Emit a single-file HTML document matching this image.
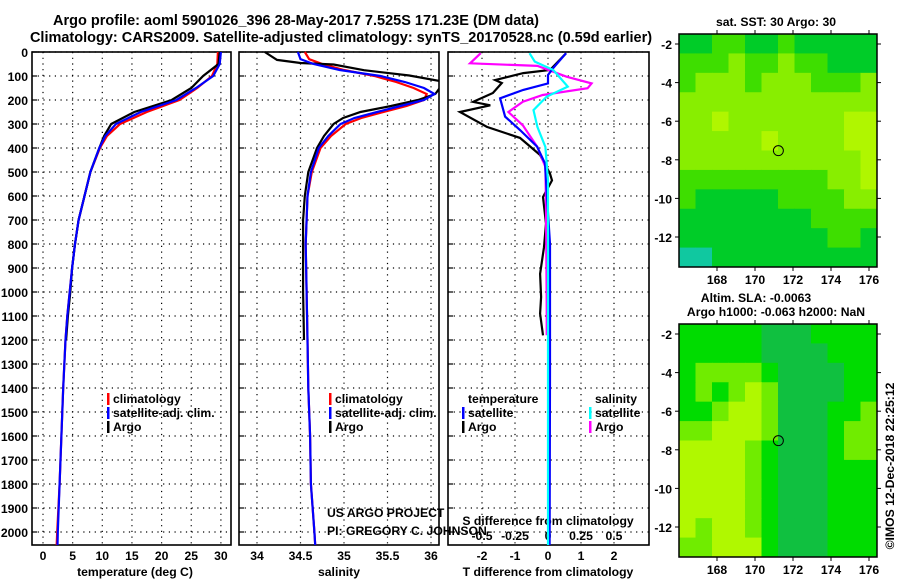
<!DOCTYPE html>
<html><head><meta charset="utf-8"><style>
html,body{margin:0;padding:0;background:#fff;}
svg{display:block;font-family:"Liberation Sans",Arial,sans-serif;}
.b{font-weight:bold;font-size:12.2px;}
</style></head><body>
<svg id="fig" width="900" height="580" viewBox="0 0 900 580">
<text x="296" y="25" text-anchor="middle" font-weight="bold" font-size="14.5">Argo profile: aoml 5901026_396 28-May-2017 7.525S 171.23E (DM data)</text>
<text x="341" y="42" text-anchor="middle" font-weight="bold" font-size="14.5">Climatology: CARS2009. Satellite-adjusted climatology: synTS_20170528.nc (0.59d earlier)</text>
<g id="g"></g>
</svg>
<script>
// ---- data ----
const depthTicks=[0,100,200,300,400,500,600,700,800,900,1000,1100,1200,1300,1400,1500,1600,1700,1800,1900,2000];
const tempTicks=[0,5,10,15,20,25,30];
const salTicks=[34,34.5,35,35.5,36];
const tdiffTicks=[-2,-1,0,1,2];
const sdiffTicks=[-0.5,-0.25,0,0.25,0.5];
const depthClim=[0,50,100,150,200,250,300,350,400,500,600,700,800,900,1000,1100,1200,1400,1600,1800,2000,2060];
const climT=[29.5,29.4,28.5,26,23,17.5,13,10.8,9.6,8,7,6,5.4,4.9,4.5,4.1,3.8,3.4,3.1,2.8,2.4,2.3];
const satT=[30,29.8,28.7,25.8,22.5,16.5,12.3,10.5,9.5,8,7,6,5.4,4.9,4.5,4.1,3.8,3.4,3.1,2.8,2.5,2.45];
const depthArgoT=[0,50,100,150,200,250,300,350,400,500,600,700,800,900,1000,1100,1200];
const argoT=[29.8,29.6,27,25,21.7,15.4,11.5,10.3,9.5,8,7,6,5.4,4.9,4.6,4.2,3.9];
const depthS=[0,30,50,75,100,125,150,175,200,225,250,275,300,350,400,500,600,800,1000,1200,1400,1600,1800,2000,2060];
const climS=[34.55,34.6,34.75,35.0,35.35,35.6,35.8,35.95,35.92,35.72,35.45,35.2,35.02,34.85,34.73,34.63,34.58,34.56,34.57,34.58,34.59,34.61,34.62,34.66,34.67];
const satS=[34.47,34.5,34.65,34.95,35.42,35.7,35.92,36.04,35.92,35.65,35.38,35.12,34.96,34.82,34.71,34.62,34.58,34.56,34.57,34.58,34.59,34.61,34.62,34.66,34.67];
const depthArgoS=[0,33,46,52,76,98,121,150,175,200,225,250,275,300,350,400,500,600,700,800,1000,1200];
const argoS=[34.09,34.23,34.5,34.88,35.23,35.75,36.1,36.1,36.05,35.85,35.54,35.19,34.99,34.88,34.77,34.69,34.59,34.55,34.53,34.53,34.53,34.54];
const depthDA=[5,75,88,117,129,171,208,222,250,312,358,429,507,535,604,715,813,924,1021,1090,1181];
const argoTdiff=[0.55,0.06,-0.75,-1.6,-1.4,-1.67,-2.27,-1.75,-2.67,-1.85,-0.85,-0.24,0.06,0.12,-0.15,-0.06,-0.12,-0.24,-0.21,-0.24,-0.15];
const depthDS=[5,68,96,131,158,193,269,325,394,464,604,800,1333,2060];
const satTdiff=[0.55,0.15,0,0,-0.75,-1.45,-1.3,-0.85,-0.33,-0.09,-0.03,0.06,0.06,0.05];
const depthDAS=[5,47,58,103,131,151,179,207,250,306,396,479,646,1063,1180];
const argoSdiff=[-0.51,-0.59,-0.08,0.14,0.33,0.3,-0.04,-0.19,-0.3,-0.19,-0.08,-0.02,-0.015,-0.01,-0.01];
const depthDSS=[5,40,75,144,186,242,312,396,535,1000,2060];
const satSdiff=[-0.14,-0.1,0.04,0.15,-0.01,-0.11,-0.08,-0.02,0,0,0];
const lonTicks=[168,170,172,174,176];
const latTicks=[-2,-4,-6,-8,-10,-12];
const sstGrid=[
[1,1,2,2,1,1,2,1,1,1,1,0.5],[2,2,2,3,2,2,3,2,2,1,1,1],[2,3,3,3,2,3,3,3,2,2,2,3],
[3,3,3,3,3,3,3,3,3,3,3,3],[3,3,4,3,3,3,3,3,3,3,4,4],[3,3,3,3,3,4,3,3,3,3,4,4],
[3,3,3,3,3,3,3,3,3,3,3,4],[2,2,2,2,2,2,2,2,2,3,3,4],[2,1,1,1,1,1,2,2,2,2,3,3],
[1,1,1,1,1,1,1,1,2,2,2,2],[1,1,1,1,1,1,1,1,1,2,2,1],[0,0,1,1,1,1,1,1,1,1,1,1]];
const slaGrid=[
[2,2,2,2,2,1,1,1,2,2,2,2],[2,2,2,2,2,1,1,1,1,2,2,2],[2,3,3,3,3,2,1,1,1,1,2,2],
[2,3,2,3,4,3,1,1,1,1,2,2],[2,2,3,4,4,3,1,1,1,2,2,3],[3,3,4,4,4,3,1,1,1,2,3,3],
[4,4,4,4,3,2,1,1,1,2,3,3],[4,4,4,4,3,2,1,1,1,2,2,2],[4,4,4,4,3,2,1,1,1,2,2,2],
[4,4,4,4,3,2,1,1,1,2,2,2],[4,3,4,4,3,2,1,1,1,2,2,2],[3,3,4,4,4,2,1,1,1,2,2,2]];
const floatLon=171.23, floatLat=-7.525;

// ---- helpers ----
const NS="http://www.w3.org/2000/svg";
const G=document.getElementById('g');
function mk(tag,attrs,parent){const e=document.createElementNS(NS,tag);for(const k in attrs)e.setAttribute(k,attrs[k]);(parent||G).appendChild(e);return e;}
function txt(s,x,y,anchor,cls,parent){const t=mk('text',{x:x,y:y,'text-anchor':anchor||'start','class':cls||'b'},parent);t.textContent=s;return t;}
const Y0=52,KY=0.24,BOT=545;
const yD=d=>Y0+KY*d;
const xT=v=>43+5.93*v;
const xS=v=>257+87*(v-34);
const xTd=v=>548+33*v;
const xSd=v=>548+132*v;
const panels=[{x0:32,x1:231,n:'temperature-panel'},{x0:239,x1:439,n:'salinity-panel'},{x0:448,x1:649,n:'difference-panel'}];
let defs=mk('defs',{});
panels.forEach((p,i)=>{const c=mk('clipPath',{id:'c'+i},defs);mk('rect',{x:p.x0,y:Y0-10,width:p.x1-p.x0,height:BOT-Y0+10},c);});
function line(xs,ds,fx,color,name,clip){
  let d='';xs.forEach((v,i)=>{d+=(i?'L':'M')+fx(v).toFixed(1)+','+yD(ds[i]).toFixed(1);});
  const p=mk('path',{d:d,fill:'none',stroke:color,'stroke-width':2.2,'clip-path':'url(#c'+clip+')'});
  
  
}
panels.forEach((p,i)=>{
  const g=mk('g',{});
  
  
  depthTicks.forEach(d=>{mk('line',{x1:p.x0,x2:p.x1,y1:yD(d),y2:yD(d),stroke:'#000','stroke-dasharray':'1.2,4.5','stroke-width':1.2},g);
    mk('line',{x1:p.x0,x2:p.x0+5,y1:yD(d),y2:yD(d),stroke:'#000','stroke-width':1.2},g);});
  const xt=i==0?tempTicks.map(xT):i==1?salTicks.map(xS):tdiffTicks.map(xTd);
  xt.forEach(x=>mk('line',{x1:x,x2:x,y1:Y0,y2:BOT,stroke:'#000','stroke-dasharray':'1.2,4.5','stroke-width':1.2},g));
  mk('rect',{x:p.x0,y:Y0,width:p.x1-p.x0,height:BOT-Y0,fill:'none',stroke:'#000','stroke-width':1.6},g);
});
depthTicks.forEach(d=>{const t=txt(String(d),28,yD(d)+5,'end');});
tempTicks.forEach(v=>{const t=txt(String(v),xT(v),560,'middle');});
salTicks.forEach(v=>{const t=txt(String(v),xS(v),560,'middle');});
tdiffTicks.forEach(v=>{const t=txt(String(v),xTd(v),560,'middle');});
sdiffTicks.forEach(v=>{const t=txt(String(v),xSd(v),540,'middle');});
let t;
t=txt('temperature (deg C)',135,576,'middle');
t=txt('salinity',339,576,'middle');
t=txt('T difference from climatology',548,576,'middle');
t=txt('S difference from climatology',548,525,'middle');
t=txt('US ARGO PROJECT',327,517,'start','');t.setAttribute('font-size','12.5');
t=txt('PI: GREGORY C. JOHNSON',327,535,'start','');t.setAttribute('font-size','12.5');
line(climT,depthClim,xT,'#ff0000','temperature-climatology-line',0);
line(argoT,depthArgoT,xT,'#000000','temperature-argo-line',0);
line(satT,depthClim,xT,'#0000ff','temperature-satellite-line',0);
line(climS,depthS,xS,'#ff0000','salinity-climatology-line',1);
line(argoS,depthArgoS,xS,'#000000','salinity-argo-line',1);
line(satS,depthS,xS,'#0000ff','salinity-satellite-line',1);
line(argoTdiff,depthDA,xTd,'#000000','tdiff-argo-line',2);
line(argoSdiff,depthDAS,xSd,'#ff00ff','sdiff-argo-line',2);
line(satTdiff,depthDS,xTd,'#0000ff','tdiff-satellite-line',2);
line(satSdiff,depthDSS,xSd,'#00ffff','sdiff-satellite-line',2);
function leg(x,y,color,label,name){const g=mk('g',{});
  if(color)mk('rect',{x:x,y:y-10,width:2.5,height:12,fill:color},g);txt(label,x+6,y,'start','b',g);}
leg(107,403,'#ff0000','climatology','legend-climatology');
leg(107,417,'#0000ff','satellite-adj. clim.','legend-satellite-adj');
leg(107,431,'#000000','Argo','legend-argo');
leg(329,403,'#ff0000','climatology','legend-climatology-sal');
leg(329,417,'#0000ff','satellite-adj. clim.','legend-satellite-adj-sal');
leg(329,431,'#000000','Argo','legend-argo-sal');
leg(462,403,null,'temperature','legend-temperature-header');
leg(462,417,'#0000ff','satellite','legend-t-satellite');
leg(462,431,'#000000','Argo','legend-t-argo');
leg(589,403,null,'salinity','legend-salinity-header');
leg(589,417,'#00ffff','satellite','legend-s-satellite');
leg(589,431,'#ff00ff','Argo','legend-s-argo');
const sstCol=['#10c8a0','#00cc28','#3ede00','#88ee00','#b0f600'];
const slaCol=['#10c8a0','#10c040','#00dc00','#70ec00','#b0f800'];
function map(top,grid,cols,name){
  const x0=679,x1=877,y1=top+233;
  const g=mk('g',{});
  const nr=grid.length,nc=grid[0].length,cw=(x1-x0)/nc,ch=(y1-top)/nr;
  grid.forEach((row,r)=>row.forEach((v,c)=>{
    const cell=mk('rect',{x:x0+c*cw,y:top+r*ch,width:cw+0.5,height:ch+0.5,fill:cols[Math.round(v)]},g);
    
    
  }));
  mk('rect',{x:x0,y:top,width:x1-x0,height:y1-top,fill:'none',stroke:'#000','stroke-width':1.5},g);
  const lx=v=>717+19*(v-168), ly=v=>top+10+19.3*(-2-v);
  lonTicks.forEach(v=>{mk('line',{x1:lx(v),x2:lx(v),y1:top,y2:top-4,stroke:'#000'},g);mk('line',{x1:lx(v),x2:lx(v),y1:y1,y2:y1+4,stroke:'#000'},g);
    const tt=txt(String(v),lx(v),y1+17,'middle','b',g);});
  latTicks.forEach(v=>{mk('line',{x1:x0,x2:x0-4,y1:ly(v),y2:ly(v),stroke:'#000'},g);mk('line',{x1:x1,x2:x1+4,y1:ly(v),y2:ly(v),stroke:'#000'},g);
    const tt=txt(String(v),672,ly(v)+5,'end','b',g);});
  const c=mk('circle',{cx:lx(floatLon),cy:ly(floatLat),r:5,fill:'none',stroke:'#000','stroke-width':1},g);
  
}
map(34,sstGrid,sstCol,'sst-map');
map(324,slaGrid,slaCol,'sla-map');
t=txt('sat. SST: 30 Argo: 30',776,26,'middle');
t=txt('Altim. SLA: -0.0063',756,302,'middle');
t=txt('Argo h1000: -0.063 h2000: NaN',776,316,'middle');
t=txt('\u00a9IMOS 12-Dec-2018 22:25:12',0,0,'middle','');t.setAttribute('font-size','12.5');t.setAttribute('transform','translate(894,466) rotate(-90)');

</script>
</body></html>
